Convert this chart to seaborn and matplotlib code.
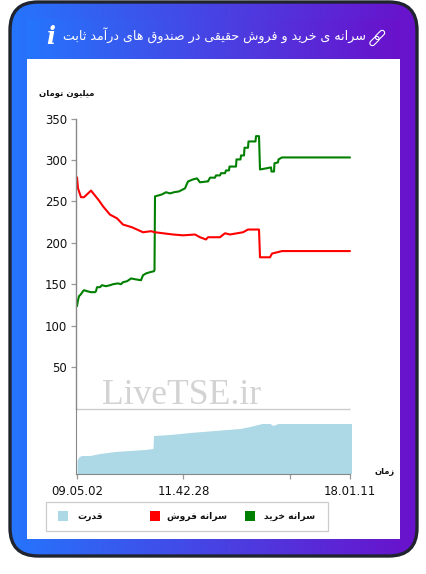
import numpy as np
import pandas as pd
import matplotlib
matplotlib.use("Agg")
import matplotlib.pyplot as plt
from matplotlib.patches import FancyBboxPatch, Rectangle
import seaborn as sns

title = "سرانه ی خرید و فروش حقیقی در صندوق های درآمد ثابت"
y_label = "میلیون تومان"
x_label = "زمان"
legend_labels = ["سرانه خرید", "سرانه فروش", "قدرت"]
legend_colors = ["#008000", "#ff0000", "#add8e6"]
y_ticks = [50, 100, 150, 200, 250, 300, 350]
x_ticks = [77, 183.5, 290, 350]
x_tick_labels = ["09.05.02", "11.42.28", "", "18.01.11"]

buy_x = [77, 78, 79, 81, 83, 84, 87, 91, 95, 96, 97, 100, 102, 106, 110, 113, 118, 121, 123, 127, 130, 131,
         135, 141, 143, 146, 150, 154, 154.5, 155, 158, 162, 166, 170, 174, 179, 185, 188, 193, 197, 200,
         207, 208, 210, 215, 216, 220, 221, 225, 226, 229, 229.5, 236, 236.5, 240.5, 241, 244, 244.5, 248,
         248.5, 255.5, 256, 259, 260, 267, 271, 271.5, 274, 274.5, 278, 278.5, 282, 350]
buy_y = [123.5, 130.7, 135.5, 138, 141.6, 142.8, 141.6, 140.4, 140.4, 141.6, 146.4, 146.4, 148.8, 147.6, 148.8,
         150, 151, 150, 152.4, 153.6, 156, 157, 156, 154.8, 160.8, 163, 164.5, 165.7, 167, 256, 257, 258.4,
         261, 259.6, 261, 262, 265.7, 274, 276.5, 277.7, 273, 274, 274, 278.6, 278.6, 281.3, 281.3, 284, 284,
         287.3, 287.3, 292, 292, 300.6, 300.6, 305.4, 305.4, 314.7, 314.7, 322.3, 322.3, 328.7, 328.7,
         288.5, 290, 291, 286, 286, 296, 297, 300.6, 303, 303]

sell_x = [77, 78, 81, 84, 87, 91, 95, 99, 103, 110, 117, 123, 132, 137, 143, 151, 155, 163, 173, 183, 195,
          200, 206, 208, 220, 225, 230, 243, 248, 259, 260, 270, 272, 282, 350]
sell_y = [279, 265.7, 255, 255, 258.4, 263, 257, 251, 244, 234, 229.5, 222, 218.7, 216, 212.7, 214, 212.7,
          211.5, 210, 209, 210, 206.7, 204, 206.7, 206.7, 211.5, 210, 212.7, 216, 216, 182.5, 182.5, 187, 190, 190]

power_x = [77, 79, 82, 90, 100, 115, 130, 145, 153, 153.5, 170, 190, 215, 240, 250, 262, 270, 273, 278, 300, 351.5]
power_y = [13, 17, 18, 18, 20, 22, 23, 24, 25, 38, 39, 41, 43, 45, 47, 50, 50, 48, 50, 50, 50]

# matplotlib does not join or reorder arabic letters, so it is done here
forms = {
    "ا": (0xFE8D, 0xFE8E), "آ": (0xFE81, 0xFE82), "د": (0xFEA9, 0xFEAA), "ر": (0xFEAD, 0xFEAE),
    "ز": (0xFEAF, 0xFEB0), "و": (0xFEED, 0xFEEE),
    "ب": (0xFE8F, 0xFE90, 0xFE91, 0xFE92), "ت": (0xFE95, 0xFE96, 0xFE97, 0xFE98),
    "ث": (0xFE99, 0xFE9A, 0xFE9B, 0xFE9C), "ح": (0xFEA1, 0xFEA2, 0xFEA3, 0xFEA4),
    "خ": (0xFEA5, 0xFEA6, 0xFEA7, 0xFEA8), "س": (0xFEB1, 0xFEB2, 0xFEB3, 0xFEB4),
    "ش": (0xFEB5, 0xFEB6, 0xFEB7, 0xFEB8), "ص": (0xFEB9, 0xFEBA, 0xFEBB, 0xFEBC),
    "ف": (0xFED1, 0xFED2, 0xFED3, 0xFED4), "ق": (0xFED5, 0xFED6, 0xFED7, 0xFED8),
    "ل": (0xFEDD, 0xFEDE, 0xFEDF, 0xFEE0), "م": (0xFEE1, 0xFEE2, 0xFEE3, 0xFEE4),
    "ن": (0xFEE5, 0xFEE6, 0xFEE7, 0xFEE8), "ه": (0xFEE9, 0xFEEA, 0xFEEB, 0xFEEC),
    "ی": (0xFBFC, 0xFBFD, 0xFBFE, 0xFBFF),
}


def fa(text):
    out = []
    for i, c in enumerate(text):
        if c not in forms:
            out.append(c)
            continue
        prev = text[i - 1] if i > 0 else " "
        nxt = text[i + 1] if i < len(text) - 1 else " "
        from_prev = prev in forms and len(forms[prev]) == 4
        to_next = nxt in forms and len(forms[c]) == 4
        if from_prev and to_next:
            k = 3
        elif to_next:
            k = 2
        elif from_prev:
            k = 1
        else:
            k = 0
        out.append(chr(forms[c][k]))
    return "".join(out[::-1])


sns.set_style("white")
plt.rcParams["font.family"] = ["DejaVu Sans"]

W, H = 427, 574
fig = plt.figure(figsize=(W / 100, H / 100), dpi=100)


def box(top, bottom, left=76.5, right=352):
    return [left / W, 1 - bottom / H, (right - left) / W, (bottom - top) / H]


# card with the gradient, coordinates in pixels
bg = fig.add_axes([0, 0, 1, 1], zorder=0)
bg.axis("off")
grad = np.linspace(0, 1, 256).reshape(1, -1, 1)
c1 = np.array([0x25, 0x75, 0xFC]) / 255
c2 = np.array([0x6A, 0x11, 0xCB]) / 255
im = bg.imshow(c1 + grad * (c2 - c1), extent=[9, 418, 557, 1], aspect="auto", zorder=1)
bg.imshow(c1 + grad * (c2 - c1), extent=[27, 400, 59, 19], aspect="auto", zorder=1.5)
bg.set_xlim(0, W)
bg.set_ylim(H, 0)
card = FancyBboxPatch((10, 2), 407, 554, boxstyle="round,pad=0,rounding_size=28",
                      fc="none", ec="#20242e", lw=2.4, zorder=3)
bg.add_patch(card)
im.set_clip_path(card)
bg.add_patch(Rectangle((27, 59), 373, 480, fc="white", ec="none", zorder=2))

bg.text(214.5, 36, fa(title), color="white", fontsize=9.1, ha="center", va="center", zorder=4)
bg.text(51, 37.5, "i", color="white", fontsize=17, family="DejaVu Serif", weight="bold", style="italic",
        ha="center", va="center", zorder=4)
for cx, cy in [(374.5, 41), (380, 35)]:
    bg.add_patch(FancyBboxPatch((cx - 2.5, cy - 5.5), 5, 11, boxstyle="round,pad=0,rounding_size=2.5",
                                fc="none", ec="white", lw=0.8, zorder=4,
                                transform=matplotlib.transforms.Affine2D().rotate_deg_around(cx, cy, 45) + bg.transData))

bg.text(67, 92.5, fa(y_label), fontsize=6.1, weight="bold", color="#111111", ha="center", va="center", zorder=4)
bg.text(385, 471, fa(x_label), fontsize=6, weight="bold", color="#111111", ha="center", va="center", zorder=4)
bg.text(182, 396, "LiveTSE.ir", fontsize=25.6, family="Liberation Serif", color="#d3d3d3",
        ha="center", va="center", zorder=4)

# legend
bg.add_patch(Rectangle((46.5, 501.5), 282, 29, fc="white", ec="#cccccc", lw=0.9, zorder=4))
for sq_x, tx, label, color in zip([245, 150, 58], [289.5, 197, 90], legend_labels, legend_colors):
    bg.add_patch(Rectangle((sq_x, 511), 10, 10, fc=color, ec="none", zorder=5))
    bg.text(tx, 516.5, fa(label), fontsize=6.6, weight="bold", color="#111111", ha="center", va="center", zorder=5)

# top part: the two per capita lines
lines = pd.concat([
    pd.DataFrame({"t": buy_x, "v": buy_y, "s": legend_labels[0]}),
    pd.DataFrame({"t": sell_x, "v": sell_y, "s": legend_labels[1]}),
])
ax = fig.add_axes(box(118.5, 408.5), zorder=2)
ax.patch.set_alpha(0)
sns.lineplot(data=lines, x="t", y="v", hue="s", palette=legend_colors[:2], estimator=None, sort=False,
             linewidth=1.5, legend=False, ax=ax)
ax.set_xlim(76.5, 352)
ax.set_ylim(0, 350)
ax.set_xlabel("")
ax.set_ylabel("")
ax.set_xticks([])
ax.set_yticks(y_ticks)
ax.tick_params(axis="y", length=3.6, width=0.9, color="#999999", labelsize=8.5, pad=3.2, left=True, labelcolor="#111111")
ax.hlines(0, 76.5, 350, color="#cccccc", lw=1, clip_on=False)
sns.despine(ax=ax, right=True, top=True, bottom=True)
ax.spines["left"].set_color("#888888")
ax.spines["left"].set_linewidth(1)

# bottom part: power area
ax2 = fig.add_axes(box(408.5, 473.5), zorder=2)
ax2.patch.set_alpha(0)
ax2.fill_between(power_x, power_y, 0, color=legend_colors[2], lw=0)
ax2.set_xlim(76.5, 352)
ax2.set_ylim(0, 65)
ax2.set_yticks([])
ax2.set_xticks(x_ticks)
ax2.set_xticklabels(x_tick_labels)
ax2.tick_params(axis="x", length=3.6, width=0.9, color="#999999", labelsize=8.5, pad=5, bottom=True, labelcolor="#111111")
sns.despine(ax=ax2, right=True, top=True)
ax2.spines["left"].set_color("#888888")
ax2.spines["bottom"].set_color("#888888")
ax2.spines["bottom"].set_bounds(76.5, 350)

fig.savefig("out.png", dpi=100)
